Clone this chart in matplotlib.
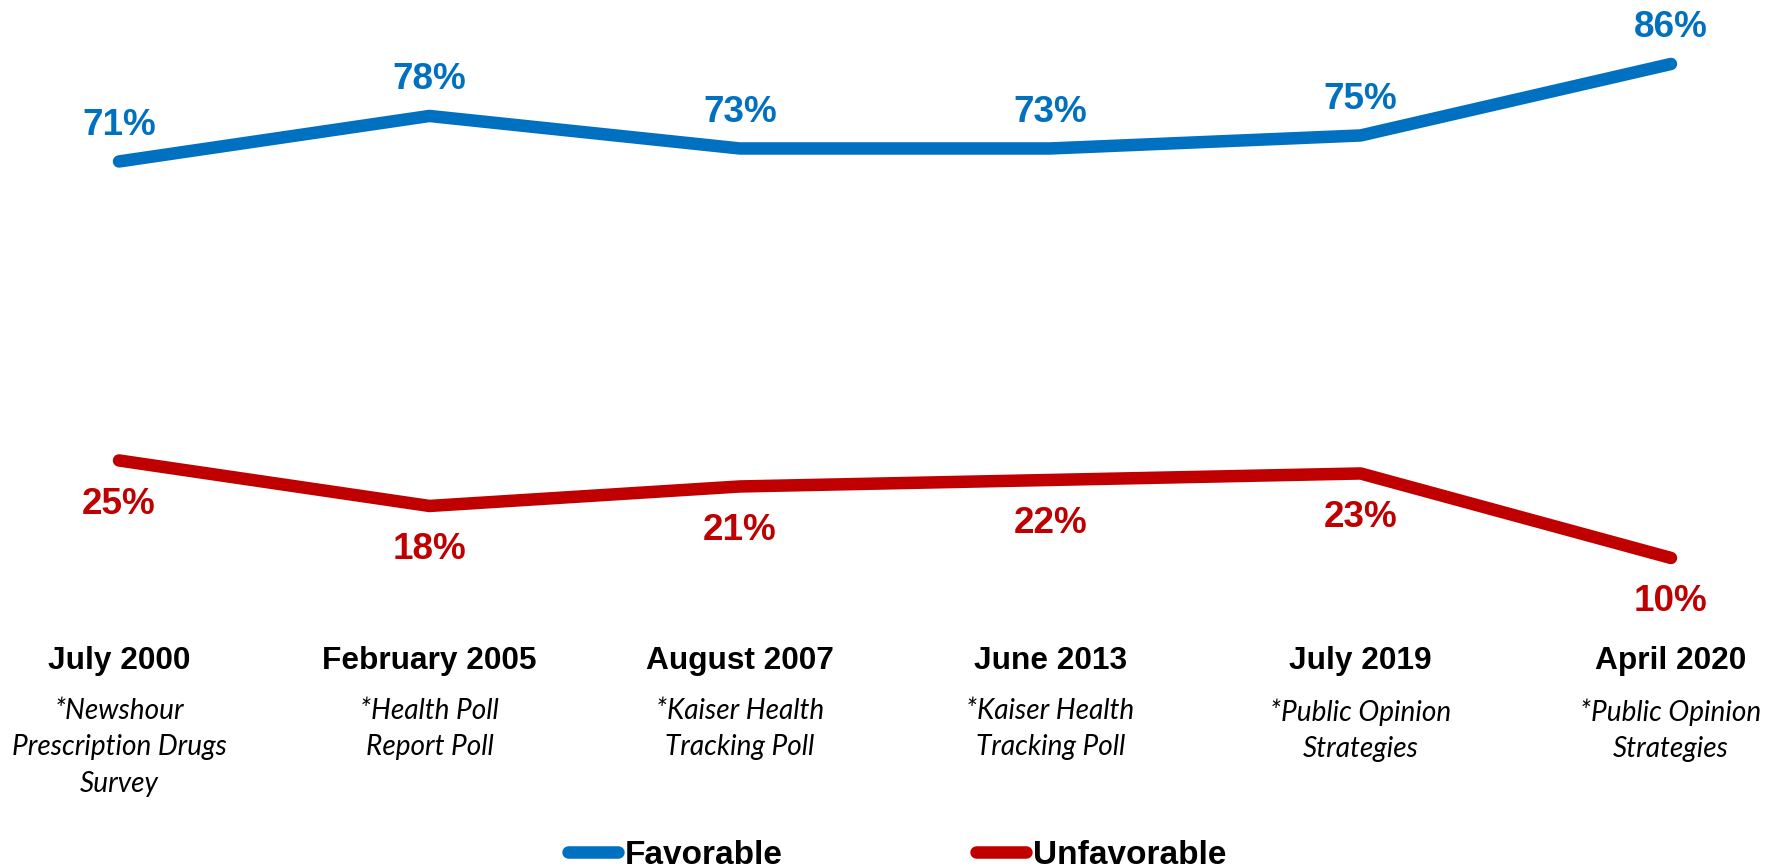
import matplotlib
matplotlib.use("Agg")
import matplotlib.pyplot as plt

# survey dates, sources and results
periods = ["July 2000", "February 2005", "August 2007", "June 2013", "July 2019", "April 2020"]
sources = [
    "*Newshour\nPrescription Drugs\nSurvey",
    "*Health Poll\nReport Poll",
    "*Kaiser Health\nTracking Poll",
    "*Kaiser Health\nTracking Poll",
    "*Public Opinion\nStrategies",
    "*Public Opinion\nStrategies",
]
favorable = [71, 78, 73, 73, 75, 86]
unfavorable = [25, 18, 21, 22, 23, 10]

BLUE = "#0070C0"
RED = "#C00000"
BOLD = dict(family="Liberation Sans", weight="bold")

fig = plt.figure(figsize=(17.77, 8.68), dpi=100)
ax = fig.add_axes([0, 0.2823, 1, 0.7114])
ax.set_xlim(-0.3834, 5.3415)
ax.set_ylim(0, 95)
ax.axis("off")

x = list(range(len(periods)))
ax.plot(x, favorable, color=BLUE, lw=9, solid_capstyle="round", label="Favorable", clip_on=False)
ax.plot(x, unfavorable, color=RED, lw=9, solid_capstyle="round", label="Unfavorable", clip_on=False)

for i in x:
    ax.annotate(f"{favorable[i]}%", (i, favorable[i]), xytext=(0, 26), textcoords="offset points",
                ha="center", va="center", color=BLUE, fontsize=26.6, **BOLD)
    ax.annotate(f"{unfavorable[i]}%", (i, unfavorable[i]), xytext=(0, -31.5), textcoords="offset points",
                ha="center", va="center", color=RED, fontsize=26.6, **BOLD)
    # date and poll name under each point
    ax.annotate(periods[i], (i, 1 - 661 / 868), xycoords=("data", "figure fraction"),
                ha="center", va="center", fontsize=22.8, color="black", **BOLD)
    ax.annotate(sources[i], (i, 1 - 698 / 868), xycoords=("data", "figure fraction"),
                ha="center", va="top", fontsize=20.2, style="italic", family="Lato",
                linespacing=1.5, color="black")

leg = fig.legend(loc="center", bbox_to_anchor=(0.5048, 0.0144), ncol=2, frameon=False,
                 handlelength=1.5, handletextpad=0.2, columnspacing=5.8,
                 prop=dict(family="Liberation Sans", weight="bold", size=24))

fig.savefig("out.png", dpi=100)
